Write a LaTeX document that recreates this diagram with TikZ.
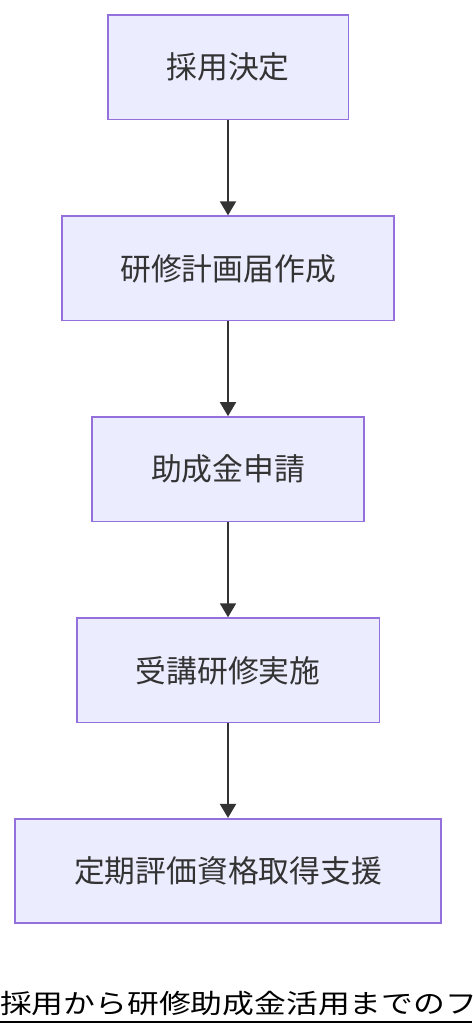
\documentclass[tikz,border=0pt]{standalone}
\usepackage{fontspec}
\setmainfont{Noto Sans CJK JP}
\usetikzlibrary{arrows.meta}
\definecolor{boxfill}{HTML}{ECECFF}
\definecolor{boxline}{HTML}{9370DB}
\definecolor{ink}{HTML}{333333}
\tikzset{
  flowbox/.style={draw=boxline, fill=boxfill, line width=1.6pt, minimum height=104.5pt,
    inner sep=0pt, text=ink, font=\fontsize{30.8}{33}\selectfont},
  flowarrow/.style={draw=ink, line width=2pt, -{Triangle[width=16pt,length=14pt]}}
}
\begin{document}
\begin{tikzpicture}[x=1pt,y=-1pt]
\useasboundingbox (0,0) rectangle (472,1036);
\clip (0,0) rectangle (472,1036);
\node[flowbox, minimum width=240.6pt] (n1) at (228,67.2) {採用決定};
\node[flowbox, minimum width=332.3pt] (n2) at (228,268.4) {研修計画届作成};
\node[flowbox, minimum width=271.5pt] (n3) at (228,469.2) {助成金申請};
\node[flowbox, minimum width=302.6pt] (n4) at (228,670.3) {受講研修実施};
\node[flowbox, minimum width=426pt] (n5) at (228,871) {定期評価資格取得支援};
\draw[flowarrow] (n1) -- (n2);
\draw[flowarrow] (n2) -- (n3);
\draw[flowarrow] (n3) -- (n4);
\draw[flowarrow] (n4) -- (n5);
\node[anchor=base west, inner sep=0pt, text=black, font=\fontsize{26.5}{30}\selectfont] (title) at (0,1013.5)
  {\scalebox{1.2}[1]{採用から研修助成金活用までのフロー}};
\coordinate (ulA) at (0,1021.7);
\coordinate (ulB) at (472,1021.7);
\draw[line width=2pt, black] (ulA) -- (ulB);
\end{tikzpicture}
\end{document}
